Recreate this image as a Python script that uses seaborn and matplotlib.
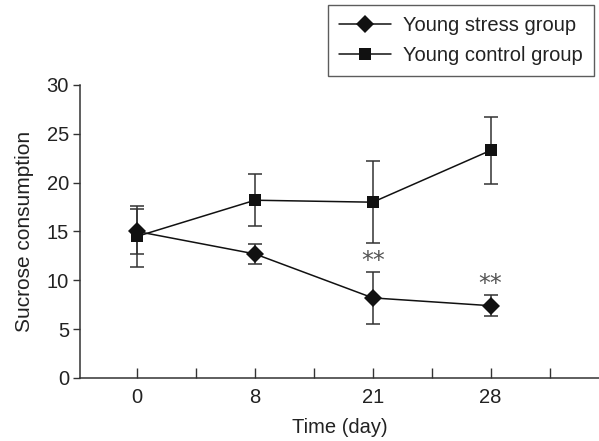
import numpy as np
import pandas as pd
import seaborn as sns
import matplotlib
matplotlib.use("Agg")
import matplotlib.pyplot as plt
from matplotlib.ticker import FixedLocator
from matplotlib.lines import Line2D

days = ["0", "8", "21", "28"]
stress_mean = [15.0, 12.7, 8.2, 7.4]
stress_err = [2.3, 1.05, 2.65, 1.1]
control_mean = [14.5, 18.2, 18.0, 23.3]
control_err = [3.1, 2.65, 4.2, 3.45]
stress_sig = ["", "", "**", "**"]

sns.set_theme(style="ticks")
plt.rcParams["font.family"] = ["Liberation Sans", "DejaVu Sans"]

FS = 14.5
pos = list(range(len(days)))
df = pd.DataFrame({
    "pos": pos * 2,
    "value": stress_mean + control_mean,
    "group": ["Young stress group"] * 4 + ["Young control group"] * 4,
})

fig = plt.figure(figsize=(5.99, 4.41), dpi=100)
ax = fig.add_axes([0.1336, 0.1429, 0.8664, 0.6644])

ax.errorbar(pos, control_mean, yerr=control_err, fmt="none", ecolor="#333333",
            elinewidth=1.1, capsize=5, capthick=1.1, zorder=2)
ax.errorbar(pos, stress_mean, yerr=stress_err, fmt="none", ecolor="#333333",
            elinewidth=1.1, capsize=5, capthick=1.1, zorder=2)

sns.lineplot(data=df, x="pos", y="value", hue="group", style="group",
             markers={"Young stress group": "D", "Young control group": "s"},
             dashes=False, palette={"Young stress group": "#111111",
                                    "Young control group": "#111111"},
             markersize=9, linewidth=1.1, markeredgewidth=0, ax=ax, zorder=3,
             legend=False)

for p, m, e, s in zip(pos, stress_mean, stress_err, stress_sig):
    if s:
        ax.text(p, m + e + 1.15, s, ha="center", va="center",
                fontsize=17, color="#555555", family="DejaVu Sans")

ax.set_xlim(-0.485, 3.92)
ax.set_ylim(0, 30)
ax.set_xticks(pos)
ax.set_xticklabels(days)
ax.xaxis.set_minor_locator(FixedLocator([0.5, 1.5, 2.5, 3.5]))
ax.set_yticks([0, 5, 10, 15, 20, 25, 30])
ax.tick_params(axis="x", which="both", direction="in", length=7, width=1,
               color="#333333", labelsize=FS, pad=7, labelcolor="#222222")
ax.tick_params(axis="y", direction="out", length=5, width=1,
               color="#333333", labelsize=FS, labelcolor="#222222", pad=3)
ax.set_xlabel("Time (day)", fontsize=FS, color="#222222", labelpad=8)
ax.set_ylabel("Sucrose consumption", fontsize=15, color="#222222", labelpad=9)
for sp in ["top", "right"]:
    ax.spines[sp].set_visible(False)
for sp in ["left", "bottom"]:
    ax.spines[sp].set_color("#333333")
    ax.spines[sp].set_linewidth(1.1)

handles = [
    Line2D([], [], color="#111111", lw=1.1, marker="D", markersize=9, markeredgewidth=0),
    Line2D([], [], color="#111111", lw=1.1, marker="s", markersize=9, markeredgewidth=0),
]
leg = fig.legend(handles, ["Young stress group", "Young control group"],
                 loc="upper right", bbox_to_anchor=(594 / 599, 1 - 5 / 441),
                 fontsize=FS, frameon=True, fancybox=False, handlelength=2.6,
                 handletextpad=0.6, borderpad=0.55, labelspacing=0.55,
                 borderaxespad=0)
leg.get_frame().set_edgecolor("#333333")
leg.get_frame().set_linewidth(1.0)
for t in leg.get_texts():
    t.set_color("#222222")

fig.savefig("out.png", dpi=100)
